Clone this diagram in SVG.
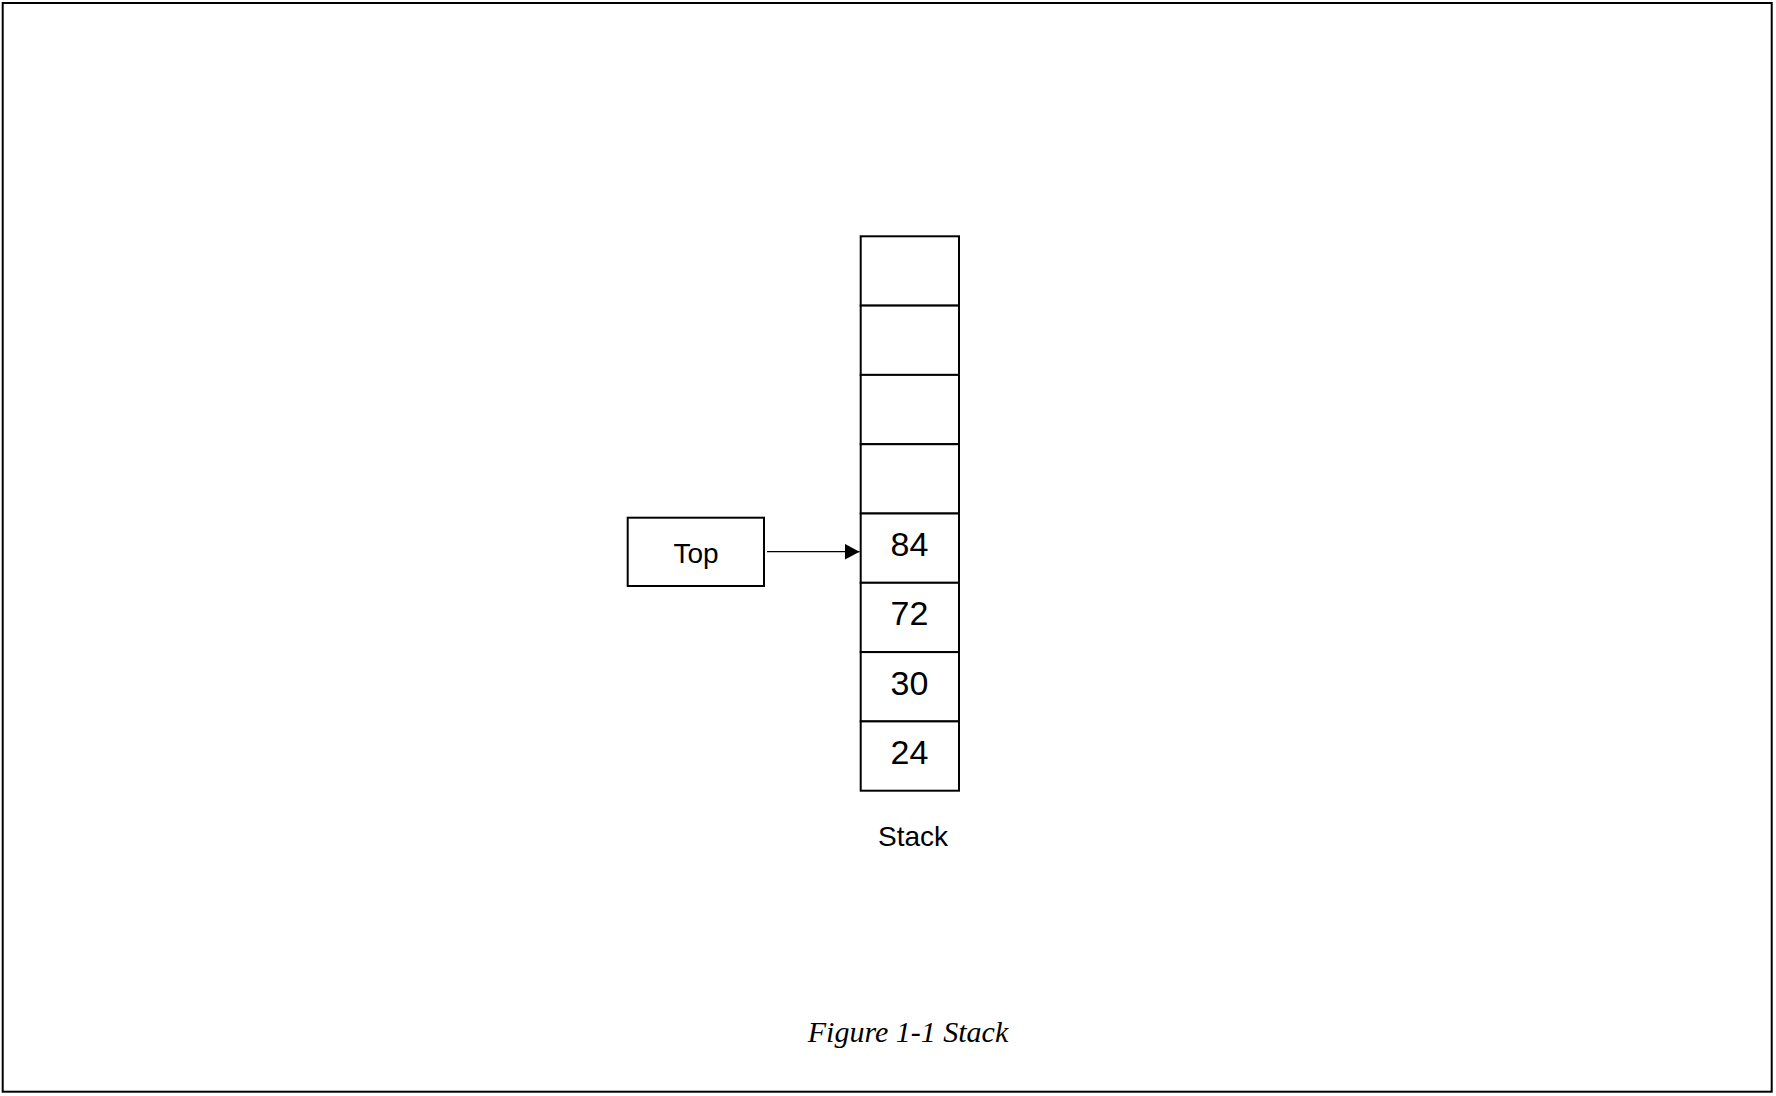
<svg xmlns="http://www.w3.org/2000/svg" width="1776" height="1096" viewBox="0 0 1776 1096">
<style>
.box{fill:#fff;stroke:#000;stroke-width:2}
.num{font-family:"Liberation Sans",Arial,sans-serif;font-size:34px;text-anchor:middle;fill:#000}
.lbl{font-family:"Liberation Sans",Arial,sans-serif;font-size:28px;text-anchor:middle;fill:#000}
.cap{font-family:"Liberation Serif","Times New Roman",serif;font-style:italic;font-size:30px;text-anchor:middle;fill:#000}
</style>
<defs>
<marker id="arr" markerWidth="16" markerHeight="16" refX="15" refY="8" orient="auto" markerUnits="userSpaceOnUse">
<path d="M0,0 L15,8 L0,16 Z" fill="#000"/>
</marker>
</defs>
<rect x="2.7" y="3" width="1769" height="1088.7" fill="#fff" stroke="#000" stroke-width="2"/>
<g id="stack">
<rect class="box" x="860.7" y="236.3" width="98.3" height="69.3"/>
<rect class="box" x="860.7" y="305.6" width="98.3" height="69.3"/>
<rect class="box" x="860.7" y="374.9" width="98.3" height="69.3"/>
<rect class="box" x="860.7" y="444.2" width="98.3" height="69.3"/>
<rect class="box" x="860.7" y="513.5" width="98.3" height="69.3"/>
<rect class="box" x="860.7" y="582.8" width="98.3" height="69.3"/>
<rect class="box" x="860.7" y="652.1" width="98.3" height="69.3"/>
<rect class="box" x="860.7" y="721.4" width="98.3" height="69.3"/>
<text class="num" x="909.5" y="556">84</text>
<text class="num" x="909.5" y="625.3">72</text>
<text class="num" x="909.5" y="694.6">30</text>
<text class="num" x="909.5" y="763.9">24</text>
<text class="lbl" x="913" y="846">Stack</text>
</g>
<g id="top">
<rect class="box" x="627.7" y="517.7" width="136.3" height="68.3"/>
<text class="lbl" x="696" y="563.3">Top</text>
</g>
<g id="connectors">
<line x1="767" y1="551.7" x2="859.5" y2="551.7" stroke="#000" stroke-width="1.2" marker-end="url(#arr)"/>
</g>
<text class="cap" x="908" y="1041.7">Figure 1-1 Stack</text>
</svg>
